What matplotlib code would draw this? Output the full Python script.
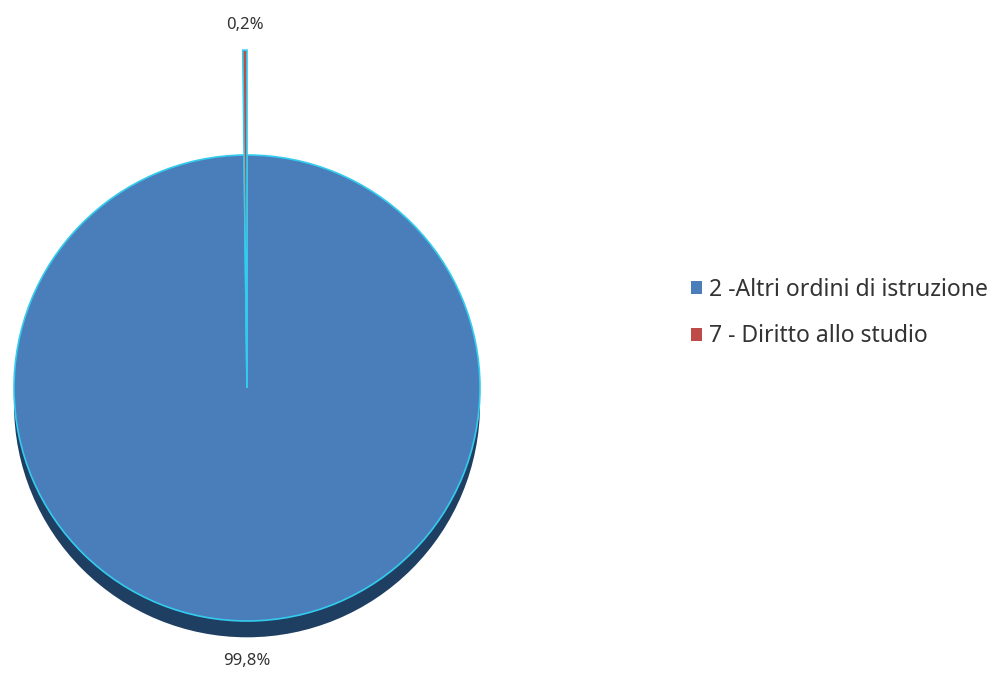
import matplotlib
matplotlib.use("Agg")
import matplotlib.pyplot as plt
from matplotlib.patches import Circle

plt.rcParams["font.family"] = ["Noto Sans", "DejaVu Sans"]

categories = ["2 -Altri ordini di istruzione", "7 - Diritto allo studio"]
values = [99.8, 0.2]
labels = ["99,8%", "0,2%"]
colors = ["#4a7ebb", "#be4b48"]

S = 233.0
fig = plt.figure(figsize=(10.03, 6.75), dpi=100)
ax = fig.add_axes([0, 0, 494 / 1003, 1])

# shadow
ax.add_patch(Circle((0, -0.07), 1.0, facecolor="#1f3f62", edgecolor="none", zorder=0))

wedges, _ = ax.pie(values, colors=colors, startangle=90, counterclock=False,
                   radius=1.0, wedgeprops=dict(edgecolor="#33ccee", linewidth=1.2))
for w in wedges:
    w.set_zorder(2)
wedges[1].set_radius(1.45)
wedges[1].set_zorder(3)
ax.set_xlim(-247 / S, 247 / S)
ax.set_ylim(-287 / S, 388 / S)
ax.set_aspect("auto")
ax.axis("off")

ax.text(-0.01, 1.56, labels[1], ha="center", va="center", fontsize=12, color="#333333")
ax.text(0.0, -1.17, labels[0], ha="center", va="center", fontsize=12, color="#333333")

handles = [plt.Rectangle((0, 0), 1, 1, facecolor=c) for c in colors]
fig.legend(handles, categories, loc="center left", bbox_to_anchor=(670 / 1003, 1 - 313 / 675),
           frameon=False, fontsize=16.5, handlelength=0.5, handleheight=0.5,
           handletextpad=0.3, labelspacing=1.0, labelcolor="#333333")

fig.savefig("out.png", dpi=100)
